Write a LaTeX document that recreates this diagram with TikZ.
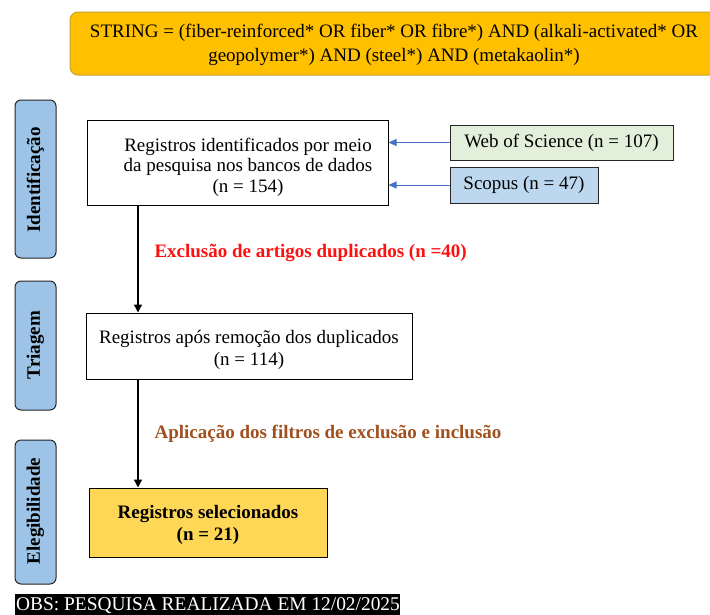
\documentclass[tikz,border=0pt]{standalone}
\usepackage{fontspec}
\setmainfont{Liberation Serif}
\usetikzlibrary{arrows.meta}
\definecolor{topfill}{HTML}{FFC000}
\definecolor{topdraw}{HTML}{C9A227}
\definecolor{sidefill}{HTML}{9DC3E6}
\definecolor{wosfill}{HTML}{E2EFDA}
\definecolor{scofill}{HTML}{BDD7EE}
\definecolor{selfill}{HTML}{FFD757}
\definecolor{blueline}{HTML}{4472C4}
\definecolor{brownlab}{HTML}{A0501E}
\definecolor{redlab}{HTML}{FF1010}
\begin{document}
\begin{tikzpicture}[x=1pt,y=-1pt,
  every node/.style={font=\fontsize{19}{21}\selectfont},
  sidebox/.style={draw=black!85,line width=1pt,fill=sidefill,rounded corners=6pt,inner sep=0pt},
  sidelabel/.style={rotate=90,font=\fontsize{19}{22}\selectfont\bfseries},
  mainbox/.style={draw=black,line width=1pt,fill=white,inner sep=0pt},
  srcbox/.style={draw=black!85,line width=1pt,inner sep=0pt},
  flow/.style={-{Triangle[length=8pt,width=8pt]},line width=1.4pt,black},
  srcarrow/.style={-{Triangle[length=8pt,width=7pt]},line width=0.6pt,blueline}
]
\useasboundingbox (0,0) rectangle (710,614);
\begin{scope}
\clip (0,0) rectangle (710,614);
% top string box
\draw[fill=topfill,draw=topdraw,line width=1pt,rounded corners=8pt] (70,12) rectangle (720,75);
\node (str) at (394,45) [align=center,font=\fontsize{19}{24}\selectfont] {STRING = (fiber-reinforced* OR fiber* OR fibre*) AND (alkali-activated* OR\\ geopolymer*) AND (steel*) AND (metakaolin*)};

% side boxes
\draw[sidebox] (15,100) rectangle (56,258);
\node[sidelabel] (s1) at (35.5,180) {Identificação};
\draw[sidebox] (15,281) rectangle (56,410);
\node[sidelabel] (s2) at (35.5,345) {Triagem};
\draw[sidebox] (15,440) rectangle (56,584);
\node[sidelabel] (s3) at (35.5,511) {Elegibilidade};

% main boxes
\node[mainbox,minimum width=301pt,minimum height=85pt] (b1) at (237.5,162.5) {};
\node[align=center,font=\fontsize{19}{20.5}\selectfont] (t1) at (248,167) {Registros identificados por meio\\da pesquisa nos bancos de dados\\(n = 154)};
\node[mainbox,minimum width=326pt,minimum height=66pt] (b2) at (249,346) {};
\node[align=center,font=\fontsize{19}{22}\selectfont] (t2) at (249,350) {Registros após remoção dos duplicados\\(n = 114)};
\node[mainbox,fill=selfill,minimum width=238pt,minimum height=69pt] (b3) at (208,522.5) {};
\node[align=center,font=\fontsize{19}{22}\selectfont\bfseries] (t3) at (208,525) {Registros selecionados\\(n = 21)};

% source boxes
\node[srcbox,fill=wosfill,minimum width=223pt,minimum height=35pt] (wos) at (561.5,142.5) {Web of Science (n = 107)};
\node[srcbox,fill=scofill,minimum width=148pt,minimum height=36pt] (sco) at (524,185) {Scopus (n = 47)};

\draw[srcarrow] (wos.west) -- (wos.west -| b1.east);
\draw[srcarrow] (sco.west) -- (sco.west -| b1.east);

% flow arrows
\coordinate (a1) at (138,205);
\coordinate (a2) at (138,379);
\draw[flow] (a1) -- (a1 |- b2.north);
\draw[flow] (a2) -- (a2 |- b3.north);

% labels
\node[anchor=west,text=redlab,font=\fontsize{19}{21}\selectfont\bfseries] (l1) at (151,253) {Exclusão de artigos duplicados (n =40)};
\node[anchor=west,text=brownlab,font=\fontsize{19}{21}\selectfont\bfseries] (l2) at (151,434) {Aplicação dos filtros de exclusão e inclusão};

% OBS
\fill[black] (15,594) rectangle (400,620);
\node[anchor=west,text=white,font=\fontsize{19.4}{21}\selectfont,inner sep=0pt] (obs) at (16,606) {OBS: PESQUISA REALIZADA EM 12/02/2025};
\end{scope}
\end{tikzpicture}
\end{document}
